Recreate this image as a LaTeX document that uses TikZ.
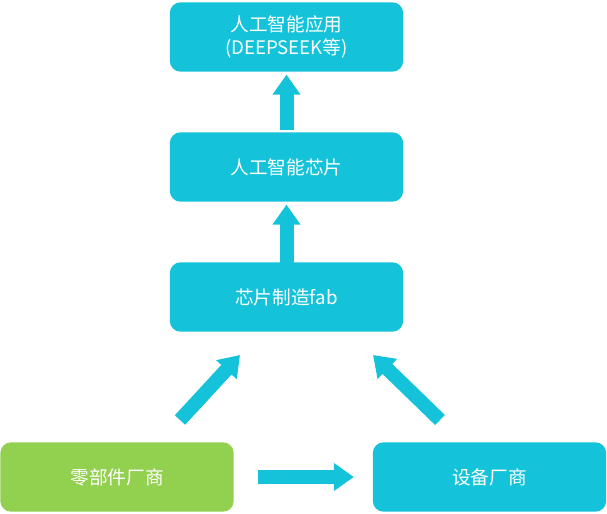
\documentclass[tikz,border=0pt]{standalone}
\usepackage{fontspec}
\setmainfont{Noto Sans CJK SC}
\usetikzlibrary{arrows.meta}
\definecolor{cy}{HTML}{14C3DA}
\definecolor{gr}{HTML}{92D050}
\begin{document}
\begin{tikzpicture}[x=0.75pt,y=-0.75pt,
  box/.style={rounded corners=8pt,minimum width=175pt,minimum height=52pt,text=white,font=\fontsize{14}{17}\selectfont,align=center,inner sep=0pt},
  barrow/.style={draw=cy,line width=10.5pt,-{Triangle[width=20pt,length=15pt]}}]
\useasboundingbox (0,0) rectangle (607,514);
\node[box,fill=cy] (a) at (286.5,37) {人工智能应用\\(DEEPSEEK等)};
\node[box,fill=cy] (b) at (286.5,167) {人工智能芯片};
\node[box,fill=cy] (c) at (286.5,297) {芯片制造fab};
\node[box,fill=gr] (d) at (117,477) {零部件厂商};
\node[box,fill=cy] (e) at (489.5,477) {设备厂商};
\draw[barrow] (b.north) ++(0,-2) coordinate (b0) -- ([yshift=-2]a.south);
\draw[barrow] ([yshift=-2]c.north) -- ([yshift=-2]b.south);
\coordinate (l0) at (180,420); \coordinate (l1) at (240,355);
\coordinate (r0) at (440,420); \coordinate (r1) at (373,355);
\draw[barrow] (l0) -- (l1);
\draw[barrow] (r0) -- (r1);
\draw[barrow] ([xshift=18]d.east) -- ([xshift=-14]e.west);
\end{tikzpicture}
\end{document}
